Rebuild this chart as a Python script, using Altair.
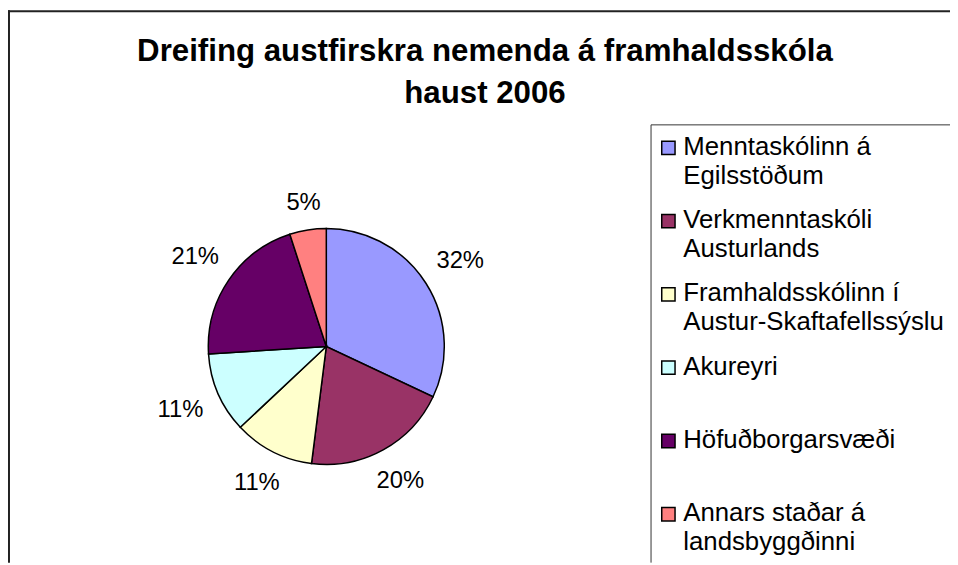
import altair as alt

# ---- data ----
NAMES = [
    "Menntaskólinn á Egilsstöðum",
    "Verkmenntaskóli Austurlands",
    "Framhaldsskólinn í Austur-Skaftafellssýslu",
    "Akureyri",
    "Höfuðborgarsvæði",
    "Annars staðar á landsbyggðinni",
]
LEGEND_LINES = [
    ["Menntaskólinn á", "Egilsstöðum"],
    ["Verkmenntaskóli", "Austurlands"],
    ["Framhaldsskólinn í", "Austur-Skaftafellssýslu"],
    ["Akureyri"],
    ["Höfuðborgarsvæði"],
    ["Annars staðar á", "landsbyggðinni"],
]
SHARES = [32, 20, 11, 11, 21, 5]
COLORS = ["#9999FF", "#993366", "#FFFFCC", "#CCFFFF", "#660066", "#FF8080"]
TITLE_LINES = ["Dreifing austfirskra nemenda á framhaldsskóla", "haust 2006"]

FONT = "Liberation Sans, Arial, sans-serif"
W, H = 950, 557
CX, CY, R = 321, 339, 119

records = [
    {"name": n, "share": s, "order": i, "lines": ln, "label": f"{s}%"}
    for i, (n, s, ln) in enumerate(zip(NAMES, SHARES, LEGEND_LINES))
]
data = alt.Data(values=records)
dummy = alt.Data(values=[{"k": 0}])

color = alt.Color("name:N", scale=alt.Scale(domain=NAMES, range=COLORS), legend=None)
order = alt.Order("order:Q")


def hrule(x0, x1, y, col, sw):
    return alt.Chart(dummy).mark_rule(color=col, strokeWidth=sw).encode(
        x=alt.value(x0), x2=alt.value(x1), y=alt.value(y)
    )


def vrule(x, y0, y1, col, sw):
    return alt.Chart(dummy).mark_rule(color=col, strokeWidth=sw).encode(
        x=alt.value(x), y=alt.value(y0), y2=alt.value(y1)
    )


frame = [vrule(1, 0, H, "#222222", 2), hrule(0, W, 1, "#222222", 2)]
legend_border = [hrule(648.5, W, 115.5, "#333333", 1), vrule(648.5, 115.5, H, "#333333", 1)]

pie = alt.Chart(data).mark_arc(
    outerRadius=R, stroke="black", strokeWidth=1.5
).encode(
    theta=alt.Theta("share:Q", stack=True), color=color, order=order,
    x=alt.value(CX), y=alt.value(CY),
)

# labels placed just outside the pie edge, like "outside end" labels
pie_labels = alt.Chart(data).transform_window(
    cum="sum(share)", sort=[alt.SortField("order")], frame=[None, 0]
).transform_joinaggregate(
    total="sum(share)"
).transform_calculate(
    mid="2*PI*(datum.cum - datum.share/2)/datum.total"
).transform_calculate(
    rad=f"{R + 13} + abs(sin(datum.mid))*length(datum.label)*8.5 + abs(cos(datum.mid))*12"
).mark_text(
    fontSize=24, font=FONT, color="black", baseline="middle", align="center"
).encode(
    theta=alt.Theta("mid:Q", scale=None, stack=None),
    radius=alt.Radius("rad:Q", scale=None, stack=None),
    text="label:N",
    x=alt.value(CX), y=alt.value(CY),
)

ly = alt.Y(
    "name:N",
    scale=alt.Scale(type="point", domain=NAMES, range=[138.7, 508.2], padding=0),
    axis=None,
)
leg_marks = alt.Chart(data).mark_square(
    size=180, stroke="black", strokeWidth=1.5, opacity=1
).encode(x=alt.value(666), y=ly, color=color)

leg_text = alt.Chart(data).mark_text(
    align="left", baseline="alphabetic", dy=7, fontSize=26, lineHeight=29,
    font=FONT, color="black"
).encode(x=alt.value(681), y=ly, text="lines:N")

title = alt.Chart(dummy).mark_text(
    text=TITLE_LINES, fontSize=31.5, fontWeight="bold", font=FONT,
    align="center", baseline="alphabetic", lineHeight=42.7, color="black"
).encode(x=alt.value(481), y=alt.value(51))

chart = alt.layer(
    *frame, *legend_border, pie, pie_labels, leg_marks, leg_text, title
).properties(
    width=W, height=H, padding=0, autosize=alt.AutoSizeParams(type="none"),
    background="white",
).configure_view(stroke=None)

chart.save("out.html", embed_options={"renderer": "svg", "actions": False})
